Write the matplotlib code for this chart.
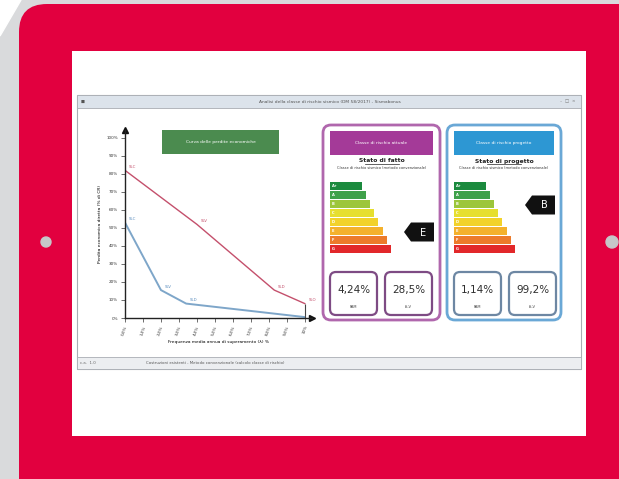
import matplotlib
matplotlib.use('Agg')
import matplotlib.pyplot as plt
from matplotlib.patches import FancyBboxPatch, Rectangle, Polygon, Circle

# Dati della curva PAM (x = indice di frequenza, y = % CR)
x_ticks = [0, 1, 2, 3, 4, 5, 6, 7, 8, 9, 10]
x_labels = ['0,0%', '1,0%', '2,0%', '3,0%', '4,0%', '5,0%', '6,0%', '7,0%', '8,0%', '9,0%', '10%']
y_ticks = [0, 10, 20, 30, 40, 50, 60, 70, 80, 90, 100]

fatto_x = [0, 4, 8.3, 10]
fatto_y = [82, 52, 15.5, 8]
fatto_lab = ['SLC', 'SLV', 'SLD', 'SLO']

progetto_x = [0, 2, 3.4, 10]
progetto_y = [53, 15.5, 8, 0.5]
progetto_lab = ['SLC', 'SLV', 'SLD', 'SLO']

# Classi di rischio
classi = ['A+', 'A', 'B', 'C', 'D', 'E', 'F', 'G']
colori_classi = ['#1b8a3e', '#3fa14a', '#9cc63b', '#e6df2f', '#f2d22a', '#f4b12c', '#ec7b2b', '#e2282a']
classe_fatto = 'E'
classe_progetto = 'B'
pam_fatto, isv_fatto = '4,24%', '28,5%'
pam_progetto, isv_progetto = '1,14%', '99,2%'

W, H = 619, 479
fig = plt.figure(figsize=(W / 100, H / 100), dpi=100)
fig.patch.set_facecolor('#d9dadc')

# asse "pixel" per la cornice del tablet
ax0 = fig.add_axes([0, 0, 1, 1])
ax0.set_xlim(0, W)
ax0.set_ylim(H, 0)
ax0.axis('off')

ax0.add_patch(Polygon([(0, 0), (21, 0), (0, 36)], closed=True, color='white'))
ax0.add_patch(FancyBboxPatch((19, 4), 700, 520, boxstyle='round,pad=0,rounding_size=28',
                             fc='#e2003f', ec='none'))
ax0.add_patch(Circle((46, 242), 5, color='#c6c7c9'))
ax0.add_patch(Circle((612, 242), 6, color='#c6c7c9'))
ax0.add_patch(Rectangle((72, 51), 514, 385, fc='white', ec='none'))

# finestra del programma
ax0.add_patch(Rectangle((77, 95), 504, 274, fc='white', ec='#a9adb3', lw=0.8))
ax0.add_patch(Rectangle((77, 95), 504, 13, fc='#dce3eb', ec='#a9adb3', lw=0.6))
ax0.add_patch(Rectangle((77, 357), 504, 12, fc='#eceef1', ec='#a9adb3', lw=0.6))
ax0.text(81, 101.5, '■', fontsize=3, color='#555555', va='center')
ax0.text(330, 101.5, 'Analisi della classe di rischio sismico (DM 58/2017) - Sismabonus',
         fontsize=3.2, color='#555555', ha='center', va='center')
ax0.text(575, 101.5, '–  □  ×', fontsize=3.2, color='#777777', ha='right', va='center')
ax0.text(80, 363, 'c.a.  1.0', fontsize=2.8, color='#666666', va='center')
ax0.text(215, 363, 'Costruzioni esistenti - Metodo convenzionale (calcolo classe di rischio)',
         fontsize=2.8, color='#555555', ha='center', va='center')

# pulsante verde
ax0.add_patch(Rectangle((162, 130), 117, 24, fc='#4b8b4f', ec='none'))
ax0.text(220.5, 142, 'Curva delle perdite economiche', fontsize=3.2, color='white',
         ha='center', va='center')


def pannello(x0, x1, bordo, testata, titolo_btn, titolo, classe, pam, isv, bordo_box):
    ax0.add_patch(FancyBboxPatch((x0, 125), x1 - x0, 195, boxstyle='round,pad=0,rounding_size=8',
                                 fc='white', ec=bordo, lw=2.0))
    ax0.add_patch(Rectangle((x0 + 7, 131), x1 - x0 - 14, 24, fc=testata, ec='none'))
    xc = (x0 + x1) / 2
    ax0.text(xc, 143, titolo_btn, fontsize=3.2, color='white', ha='center', va='center')
    ax0.text(xc, 161, titolo, fontsize=4.3, fontweight='bold', color='#222222', ha='center', va='center')
    ax0.plot([xc - 17, xc + 17], [164, 164], color='#222222', lw=0.5)
    ax0.text(xc, 168, 'Classe di rischio sismico (metodo convenzionale)', fontsize=2.6,
             color='#333333', ha='center', va='center')
    # barre delle classi
    righe = [186 + 9 * i for i in range(len(classi))]
    lung = [32 + 4.1 * i for i in range(len(classi))]
    ax0.barh(righe, lung, left=x0 + 7, height=7.8, color=colori_classi)
    for r, c in zip(righe, classi):
        ax0.text(x0 + 9, r, c, fontsize=2.6, color='white', va='center', fontweight='bold')
    # freccia della classe
    r = righe[classi.index(classe)] + 1
    xr = x1 - 6
    ax0.add_patch(Polygon([(xr - 30, r), (xr - 23, r - 9.5), (xr, r - 9.5), (xr, r + 9.5), (xr - 23, r + 9.5)],
                          closed=True, fc='#111111', ec='none'))
    ax0.text(xr - 11, r + 0.5, classe, fontsize=7, color='white', ha='center', va='center')
    # riquadri PAM / IS-V
    for bx, val, lab in [(x0 + 7, pam, 'PAM'), (x0 + 62, isv, 'IS-V')]:
        ax0.add_patch(FancyBboxPatch((bx, 272), 47, 43, boxstyle='round,pad=0,rounding_size=6',
                                     fc='white', ec=bordo_box, lw=1.6))
        ax0.text(bx + 23.5, 290, val, fontsize=7.5, fontweight='medium', color='#2e2e2e',
                 ha='center', va='center')
        ax0.text(bx + 23.5, 307, lab, fontsize=2.6, color='#444444', ha='center', va='center')


pannello(323, 440, '#b067ad', '#a43a98', 'Classe di rischio attuale', 'Stato di fatto',
         classe_fatto, pam_fatto, isv_fatto, '#7e4b84')
pannello(447, 561, '#6aa8d6', '#2d97d3', 'Classe di rischio progetto', 'Stato di progetto',
         classe_progetto, pam_progetto, isv_progetto, '#6d87a3')

# grafico della curva
ax = fig.add_axes([125 / W, (H - 318) / H, 187 / W, 188 / H])
ax.patch.set_alpha(0)
ax.set_xlim(0, 10.4)
ax.set_ylim(0, 104.4)
for s in ['top', 'right']:
    ax.spines[s].set_visible(False)
for s in ['left', 'bottom']:
    ax.spines[s].set_linewidth(1.0)
    ax.spines[s].set_color('#222222')
ax.plot(0, 1, '^', color='#111111', ms=5, transform=ax.transAxes, clip_on=False)
ax.plot(1, 0, '>', color='#111111', ms=5, transform=ax.transAxes, clip_on=False)

ax.set_yticks(y_ticks)
ax.set_yticklabels([f'{v}%' for v in y_ticks], fontsize=3)
ax.set_xticks(x_ticks)
ax.set_xticklabels(x_labels, fontsize=3, rotation=70)
ax.tick_params(length=3, width=0.5, pad=2, colors='#333333')

ax.plot(fatto_x, fatto_y, color='#c4506c', lw=1.0)
ax.plot(progetto_x, progetto_y, color='#7ea6c9', lw=1.4)
ax.vlines(fatto_x[-1], 0, fatto_y[-1], color='#444444', lw=0.8)
for xx, yy, t in zip(fatto_x, fatto_y, fatto_lab):
    ax.text(xx + 0.2, yy + 1.2, t, fontsize=2.8, color='#c4506c')
for xx, yy, t in zip(progetto_x[:-1], progetto_y[:-1], progetto_lab[:-1]):
    ax.text(xx + 0.2, yy + 1.2, t, fontsize=2.8, color='#5d8fbf')

ax.set_ylabel('Perdita economica diretta (% di CR)', fontsize=3.2, labelpad=3)
ax.set_xlabel('Frequenza media annua di superamento (λ) %', fontsize=3.2, labelpad=3)

fig.savefig('out.png', dpi=100)
